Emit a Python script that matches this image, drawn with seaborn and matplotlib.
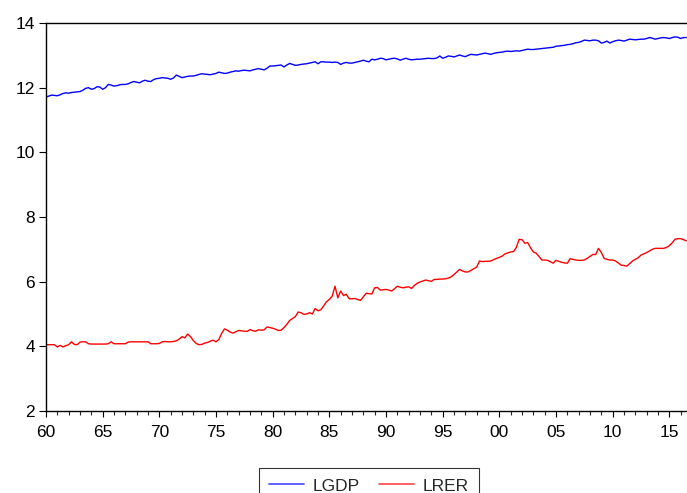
import numpy as np
import pandas as pd
import matplotlib
matplotlib.use("Agg")
import matplotlib.pyplot as plt
import seaborn as sns
from matplotlib.lines import Line2D

# Quarterly observations 1960Q1 .. 2016Q3
start_year = 1960
lgdp = [
    11.71, 11.74, 11.77, 11.76,  # 1960
    11.75, 11.78, 11.82, 11.84,  # 1961
    11.83, 11.85, 11.86, 11.87,  # 1962
    11.88, 11.92, 11.98, 12.00,  # 1963
    11.95, 11.97, 12.03, 12.02,  # 1964
    11.95, 12.00, 12.10, 12.08,  # 1965
    12.05, 12.06, 12.09, 12.10,  # 1966
    12.10, 12.12, 12.16, 12.19,  # 1967
    12.17, 12.15, 12.20, 12.23,  # 1968
    12.20, 12.19, 12.25, 12.28,  # 1969
    12.29, 12.31, 12.30, 12.29,  # 1970
    12.26, 12.30, 12.39, 12.35,  # 1971
    12.31, 12.33, 12.35, 12.36,  # 1972
    12.36, 12.38, 12.41, 12.43,  # 1973
    12.42, 12.41, 12.40, 12.42,  # 1974
    12.44, 12.48, 12.46, 12.44,  # 1975
    12.45, 12.48, 12.50, 12.52,  # 1976
    12.51, 12.53, 12.54, 12.53,  # 1977
    12.52, 12.55, 12.57, 12.59,  # 1978
    12.57, 12.55, 12.60, 12.67,  # 1979
    12.67, 12.68, 12.69, 12.70,  # 1980
    12.64, 12.70, 12.75, 12.72,  # 1981
    12.69, 12.70, 12.72, 12.73,  # 1982
    12.74, 12.76, 12.78, 12.80,  # 1983
    12.74, 12.80, 12.80, 12.79,  # 1984
    12.79, 12.78, 12.79, 12.78,  # 1985
    12.72, 12.76, 12.78, 12.76,  # 1986
    12.76, 12.78, 12.80, 12.82,  # 1987
    12.85, 12.82, 12.80, 12.88,  # 1988
    12.86, 12.88, 12.91, 12.90,  # 1989
    12.86, 12.88, 12.90, 12.91,  # 1990
    12.89, 12.85, 12.88, 12.91,  # 1991
    12.88, 12.86, 12.87, 12.88,  # 1992
    12.88, 12.89, 12.90, 12.91,  # 1993
    12.90, 12.90, 12.92, 12.98,  # 1994
    12.91, 12.94, 12.98, 12.97,  # 1995
    12.95, 12.98, 13.01, 12.98,  # 1996
    12.96, 13.00, 13.03, 13.02,  # 1997
    13.01, 13.03, 13.05, 13.07,  # 1998
    13.05, 13.03, 13.06, 13.08,  # 1999
    13.09, 13.10, 13.12, 13.13,  # 2000
    13.12, 13.13, 13.14, 13.13,  # 2001
    13.15, 13.17, 13.19, 13.18,  # 2002
    13.18, 13.19, 13.20, 13.21,  # 2003
    13.22, 13.23, 13.24, 13.25,  # 2004
    13.28, 13.29, 13.30, 13.31,  # 2005
    13.33, 13.34, 13.36, 13.39,  # 2006
    13.40, 13.43, 13.47, 13.46,  # 2007
    13.45, 13.47, 13.47, 13.45,  # 2008
    13.38, 13.40, 13.44, 13.38,  # 2009
    13.42, 13.45, 13.47, 13.46,  # 2010
    13.44, 13.47, 13.50, 13.49,  # 2011
    13.48, 13.49, 13.50, 13.50,  # 2012
    13.52, 13.55, 13.53, 13.50,  # 2013
    13.52, 13.54, 13.55, 13.54,  # 2014
    13.52, 13.55, 13.57, 13.56,  # 2015
    13.52, 13.55, 13.55,         # 2016
]
lrer = [
    4.05, 4.05, 4.05, 4.05,  # 1960
    3.98, 4.03, 3.98, 4.02,  # 1961
    4.05, 4.14, 4.06, 4.05,  # 1962
    4.13, 4.14, 4.14, 4.08,  # 1963
    4.07, 4.07, 4.07, 4.07,  # 1964
    4.07, 4.07, 4.08, 4.14,  # 1965
    4.08, 4.08, 4.08, 4.08,  # 1966
    4.08, 4.13, 4.14, 4.14,  # 1967
    4.14, 4.14, 4.14, 4.14,  # 1968
    4.14, 4.08, 4.08, 4.08,  # 1969
    4.09, 4.14, 4.15, 4.14,  # 1970
    4.14, 4.15, 4.17, 4.22,  # 1971
    4.30, 4.26, 4.38, 4.30,  # 1972
    4.18, 4.09, 4.05, 4.06,  # 1973
    4.10, 4.12, 4.16, 4.19,  # 1974
    4.14, 4.21, 4.40, 4.54,  # 1975
    4.50, 4.44, 4.41, 4.45,  # 1976
    4.49, 4.48, 4.47, 4.46,  # 1977
    4.52, 4.48, 4.47, 4.51,  # 1978
    4.50, 4.51, 4.60, 4.58,  # 1979
    4.56, 4.53, 4.49, 4.50,  # 1980
    4.58, 4.68, 4.80, 4.86,  # 1981
    4.92, 5.06, 5.04, 4.99,  # 1982
    5.00, 5.04, 5.00, 5.17,  # 1983
    5.10, 5.13, 5.25, 5.38,  # 1984
    5.45, 5.55, 5.86, 5.50,  # 1985
    5.71, 5.57, 5.61, 5.47,  # 1986
    5.47, 5.48, 5.45, 5.42,  # 1987
    5.53, 5.64, 5.63, 5.62,  # 1988
    5.81, 5.82, 5.74, 5.75,  # 1989
    5.76, 5.74, 5.71, 5.78,  # 1990
    5.86, 5.83, 5.81, 5.83,  # 1991
    5.84, 5.79, 5.88, 5.95,  # 1992
    5.99, 6.02, 6.05, 6.03,  # 1993
    6.01, 6.07, 6.07, 6.08,  # 1994
    6.08, 6.09, 6.11, 6.15,  # 1995
    6.22, 6.30, 6.38, 6.33,  # 1996
    6.30, 6.30, 6.35, 6.40,  # 1997
    6.45, 6.64, 6.62, 6.63,  # 1998
    6.63, 6.64, 6.68, 6.72,  # 1999
    6.75, 6.79, 6.86, 6.89,  # 2000
    6.92, 6.93, 7.06, 7.31,  # 2001
    7.30, 7.19, 7.21, 7.05,  # 2002
    6.92, 6.88, 6.78, 6.67,  # 2003
    6.67, 6.66, 6.62, 6.57,  # 2004
    6.66, 6.63, 6.60, 6.58,  # 2005
    6.57, 6.71, 6.69, 6.67,  # 2006
    6.66, 6.66, 6.67, 6.72,  # 2007
    6.78, 6.84, 6.84, 7.03,  # 2008
    6.90, 6.72, 6.69, 6.67,  # 2009
    6.67, 6.64, 6.58, 6.51,  # 2010
    6.50, 6.48, 6.56, 6.64,  # 2011
    6.69, 6.74, 6.82, 6.86,  # 2012
    6.90, 6.95, 7.00, 7.03,  # 2013
    7.03, 7.03, 7.03, 7.06,  # 2014
    7.11, 7.20, 7.31, 7.33,  # 2015
    7.33, 7.30, 7.26,        # 2016
]
series_names = ["LGDP", "LRER"]
y_ticks = [2, 4, 6, 8, 10, 12, 14]
x_major_years = list(range(1960, 2016, 5))
x_major_labels = ["60", "65", "70", "75", "80", "85", "90", "95", "00", "05", "10", "15"]

t = start_year + np.arange(len(lgdp)) / 4.0
df = pd.DataFrame({
    "t": np.concatenate([t, t]),
    "value": np.concatenate([lgdp, lrer]),
    "series": [series_names[0]] * len(lgdp) + [series_names[1]] * len(lrer),
})

sns.set_style("ticks")
plt.rcParams["font.family"] = ["Liberation Sans", "DejaVu Sans"]

W, H = 687, 493
fig = plt.figure(figsize=(W / 100, H / 100), dpi=100)
ax = fig.add_axes([46 / W, (H - 411) / H, (W - 46) / W, (411 - 23) / H])

sns.lineplot(data=df, x="t", y="value", hue="series",
             palette={"LGDP": "#0000ff", "LRER": "#ff0000"},
             linewidth=1.0, ax=ax, legend=False)

ax.set_xlim(1960, 2016.56)
ax.set_ylim(2, 14)
ax.set_yticks(y_ticks)
ax.set_yticklabels([str(v) for v in y_ticks])
ax.set_xticks(x_major_years)
ax.set_xticklabels(x_major_labels)
ax.set_xticks(list(range(1960, 2017)), minor=True)
ax.set_xlabel("")
ax.set_ylabel("")

for s in ["left", "bottom", "top"]:
    ax.spines[s].set_visible(True)
    ax.spines[s].set_color("black")
    ax.spines[s].set_linewidth(1.0)
ax.spines["right"].set_visible(False)

ax.tick_params(axis="y", which="major", direction="out", length=5, width=0.8,
               labelsize=12.5, pad=3, colors="black", left=True, right=False)
ax.tick_params(axis="x", which="major", direction="out", length=4, width=0.8,
               labelsize=12.5, pad=6, colors="black", top=False)
ax.tick_params(axis="x", which="minor", direction="out", length=3, width=0.8,
               top=False)

handles = [Line2D([], [], color="#4444ff", lw=1.2),
           Line2D([], [], color="#ff4444", lw=1.2)]
leg = fig.legend(handles, series_names, loc="upper left",
                 bbox_to_anchor=(259 / W, 1 - 468 / H), ncol=2,
                 frameon=True, fancybox=False, fontsize=12.5,
                 handlelength=2.0, handletextpad=0.5, columnspacing=1.1,
                 borderpad=0.6, borderaxespad=0)
leg.get_frame().set_edgecolor("black")
leg.get_frame().set_linewidth(0.8)

fig.savefig("out.png", dpi=100)
